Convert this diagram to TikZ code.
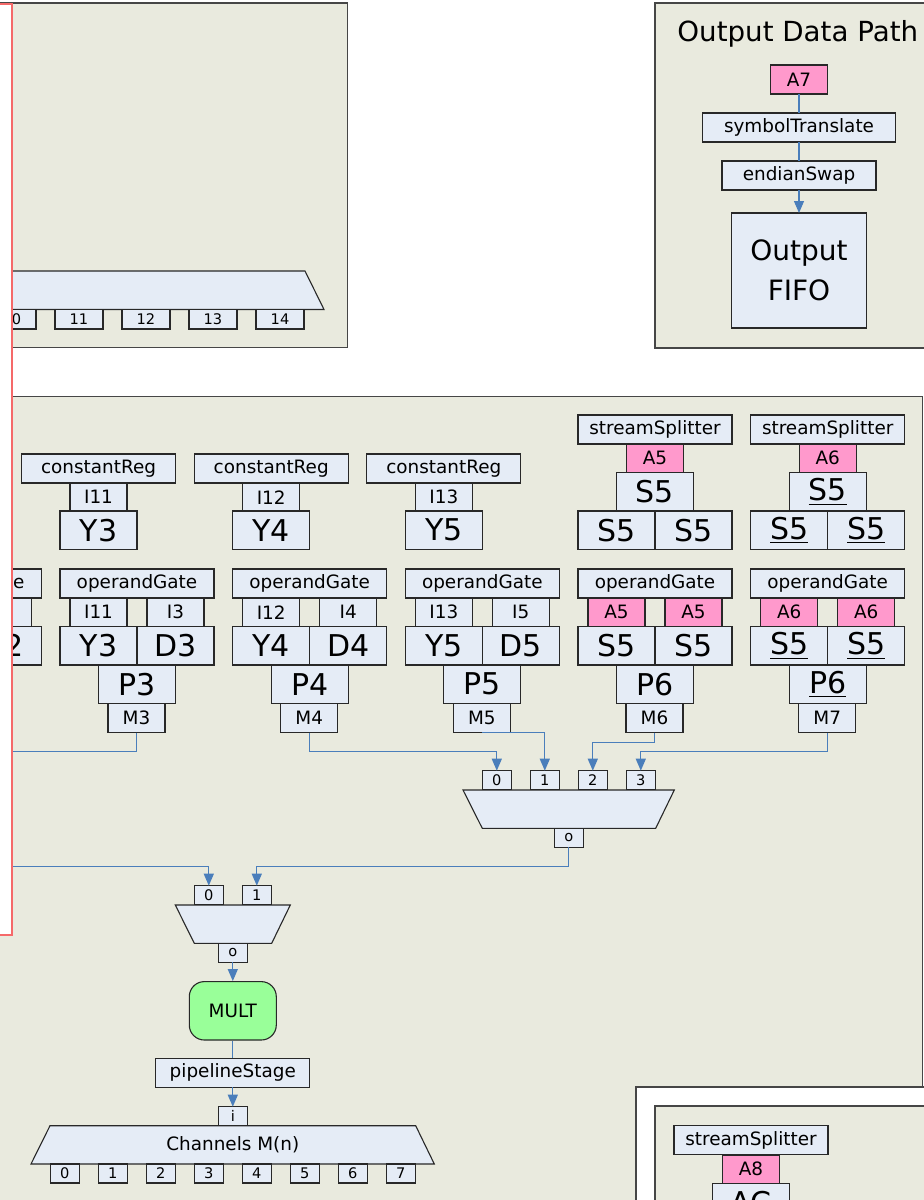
\documentclass[tikz,border=0pt]{standalone}
\usepackage{fontspec}
\setmainfont{DejaVu Sans}
\usetikzlibrary{arrows.meta}
\definecolor{panelfill}{RGB}{233,234,222}
\definecolor{panelline}{RGB}{70,70,70}
\definecolor{boxfill}{RGB}{229,236,246}
\definecolor{boxline}{RGB}{40,40,40}
\definecolor{pinkfill}{RGB}{255,153,204}
\definecolor{multfill}{RGB}{153,255,153}
\definecolor{wirecol}{RGB}{74,126,187}
\definecolor{redline}{RGB}{245,105,105}
\newcommand\fnorm{\fontsize{9.2}{11}\selectfont}
\newcommand\fbig{\fontsize{15}{18}\selectfont}
\newcommand\fport{\fontsize{7.3}{9}\selectfont}
\newcommand\ftitle{\fontsize{13.85}{16}\selectfont}
\newcommand\ffifo{\fontsize{14}{20}\selectfont}
\tikzset{
panel/.style={draw=panelline,line width=0.7pt,fill=panelfill},
trap/.style={draw=boxline,line width=0.55pt,fill=boxfill},
blk/.style={draw=boxline,line width=0.55pt,fill=boxfill,inner sep=0pt,outer sep=0pt,anchor=north west,font=\fnorm},
lblbox/.style={blk,minimum width=77pt,minimum height=14.5pt},
inbox/.style={blk,minimum width=28.5pt,minimum height=14.25pt},
bigbox/.style={blk,minimum width=38.5pt,minimum height=19.25pt,font=\fbig},
mbox/.style={blk,minimum width=28.5pt,minimum height=14.5pt},
port/.style={blk,minimum width=14.5pt,minimum height=9.5pt,font=\fport},
wport/.style={blk,minimum width=24pt,minimum height=9.75pt,font=\fport},
pinkbox/.style={fill=pinkfill},
regin/.style={},
wire/.style={draw=wirecol,line width=0.6pt},
arr/.style={wire,-{Triangle[width=5pt,length=6pt]}},
multbox/.style={draw=boxline,line width=0.55pt,fill=multfill,rounded corners=7.5pt,inner sep=0pt,minimum width=43.5pt,minimum height=29.2pt,font=\fnorm}
}
\begin{document}
\begin{tikzpicture}[x=0.5pt,y=-0.5pt]
\useasboundingbox (0,0) rectangle (924,1200);
\clip (0,0) rectangle (924,1200);
\fill[white] (0,0) rectangle (924,1200);
\draw[panel] (-100,3) rectangle (347.7,347.7);
\draw[trap] (-300,271) -- (305,271) -- (324,309.5) -- (-300,309.5) -- cycle;
\foreach \k/\t in {0/10,1/11,2/12,3/13,4/14}
\node[wport] (dp\t) at (-12+67*\k,309.5) {\t};
\draw[panel] (655,3) rectangle (1100,348);
\node[anchor=base west,inner sep=0pt,font=\ftitle] (odptitle) at (677,41.7) {Output Data Path};
\node[inbox,pinkbox,minimum height=14.5pt] (a7) at (770.5,65) {A7};
\node[blk,minimum width=96.5pt,minimum height=14.5pt] (symt) at (702.5,113) {symbolTranslate};
\node[lblbox] (endsw) at (722,161) {endianSwap};
\node[blk,minimum width=67.5pt,minimum height=57.5pt,align=center,font=\ffifo] (ofifo) at (731.5,213) {Output\\FIFO};
\draw[wire] (a7) -- (symt);
\draw[wire] (symt) -- (endsw);
\draw[arr] (endsw) -- (ofifo);
\draw[panel] (-100,396.5) rectangle (922.5,1400);
\foreach \x/\n/\i in {60/3/I11,232.7/4/I12,405.3/5/I13} {
\node[lblbox] (cr\n) at (\x-38.5,454) {constantReg};
\node[inbox] (ci\n) at (\x+10,483) {\i};
\node[bigbox] (cy\n) at (\x,511) {Y\n};
}
\foreach \x/\n/\a/\s in {578/5/A5/S5,750.7/6/A6/{\underline{S5}}} {
\node[lblbox] (ss\n) at (\x,415) {streamSplitter};
\node[inbox,pinkbox] (sa\n) at (\x+48.5,444) {\a};
\node[bigbox] (st\n) at (\x+38.5,472.5) {\s};
\node[bigbox] (sl\n) at (\x,511) {\s};
\node[bigbox] (sr\n) at (\x+77,511) {\s};
}
\node[lblbox] (og2) at (-112.7,569) {operandGate};
\node[inbox] (ob2) at (-25.7,598) {};
\node[bigbox] (od2) at (-35.7,626.5) {D2};
\foreach \x/\n/\ia/\ib/\ba/\bb/\p/\m/\s in {
60/3/I11/I3/Y3/D3/P3/M3/regin,
232.7/4/I12/I4/Y4/D4/P4/M4/regin,
405.3/5/I13/I5/Y5/D5/P5/M5/regin,
578/6/A5/A5/S5/S5/P6/M6/pinkbox,
750.7/7/A6/A6/{\underline{S5}}/{\underline{S5}}/{\underline{P6}}/M7/pinkbox} {
\node[lblbox] (og\n) at (\x,569) {operandGate};
\node[inbox,\s] (oa\n) at (\x+10,598) {\ia};
\node[inbox,\s] (ob\n) at (\x+87,598) {\ib};
\node[bigbox] (oy\n) at (\x,626.5) {\ba};
\node[bigbox] (od\n) at (\x+77,626.5) {\bb};
\node[bigbox] (op\n) at (\x+38.5,665) {\p};
\node[mbox] (om\n) at (\x+48,703.5) {\m};
}
\draw[trap] (463,790) -- (674.3,790) -- (655.7,828.3) -- (482.3,828.3) -- cycle;
\foreach \k in {0,1,2,3}
\node[port] (q\k) at (482.3+48*\k,770.7) {\k};
\node[port] (qo) at (554.3,828.3) {o};
\coordinate (m3end) at (-60,751.5);
\draw[wire] (om3.south) |- (m3end);
\draw[arr] (om4.south) -- ++(0,19) -| (q0.north);
\draw[arr] (om5.south) -| (q1.north);
\draw[arr] (om6.south) -- ++(0,10) -| (q2.north);
\draw[arr] (om7.south) -- ++(0,19) -| (q3.north);
\draw[trap] (175.3,905) -- (290.3,905) -- (271.7,943.3) -- (194.3,943.3) -- cycle;
\node[port] (r0) at (194.3,885.7) {0};
\node[port] (r1) at (242.3,885.7) {1};
\node[port] (ro) at (218.3,943.3) {o};
\coordinate (mxin) at (-60,866.7);
\draw[arr] (mxin) -| (r0.north);
\draw[arr] (qo.south) -- ++(0,19.4) -| (r1.north);
\node[multbox] (mult) at (232.8,1010.8) {MULT};
\node[lblbox] (pipe) at (155.8,1058.3) {pipelineStage};
\draw[arr] (ro) -- (mult);
\draw[wire] (mult) -- (pipe);
\draw[trap] (50,1125.7) -- (415.7,1125.7) -- (434.3,1164) -- (31,1164) -- cycle;
\node[font=\fnorm] (chan) at (232.8,1145) {Channels M(n)};
\node[port] (ip) at (218.3,1106.7) {i};
\draw[arr] (pipe) -- (ip);
\foreach \k in {0,...,7}
\node[port] (c\k) at (50.3+48*\k,1164) {\k};
\draw[draw=panelline,line width=0.7pt,fill=white] (636,1087) rectangle (1100,1400);
\draw[panel] (655,1106) rectangle (1100,1400);
\node[lblbox] (ss8) at (674,1125.7) {streamSplitter};
\node[inbox,pinkbox] (sa8) at (722.5,1155) {A8};
\node[bigbox] (st8) at (712.5,1183.5) {AC};
\draw[redline,line width=0.8pt,fill=white] (-50,4) rectangle (11.7,935);
\end{tikzpicture}
\end{document}
